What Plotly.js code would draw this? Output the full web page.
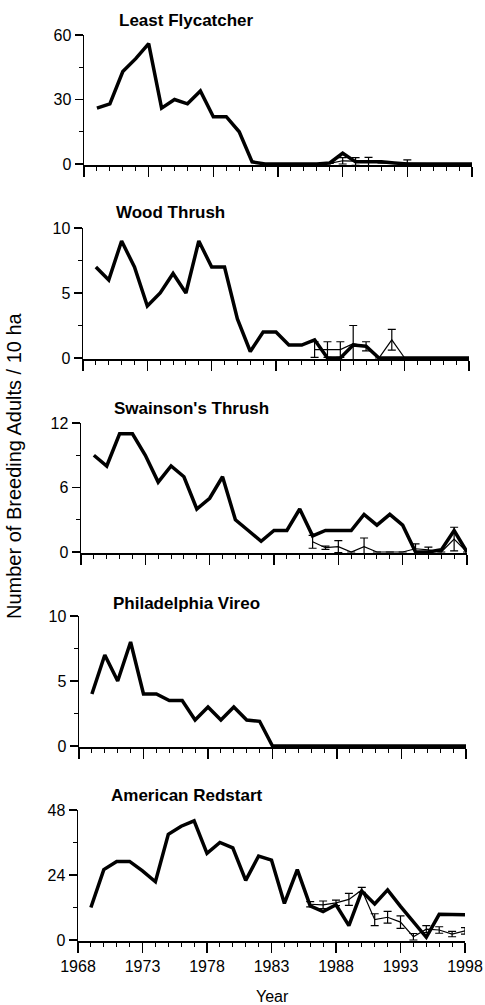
<!DOCTYPE html>
<html>
<head>
<meta charset="utf-8">
<script src="https://cdn.plot.ly/plotly-3.0.1.min.js"></script>
<style>html,body{margin:0;padding:0;background:#fff;}#chart{width:485px;height:1005px;}</style>
</head>
<body>
<div id="chart"></div>
<script>
// ---------- DATA ----------
var years = [1969,1970,1971,1972,1973,1974,1975,1976,1977,1978,1979,1980,1981,1982,1983,
             1984,1985,1986,1987,1988,1989,1990,1991,1992,1993,1994,1995,1996,1997,1998];
var recentYears = [1986,1987,1988,1989,1990,1991,1992,1993,1994,1995,1996,1997,1998];

var species = ["Least Flycatcher","Wood Thrush","Swainson's Thrush","Philadelphia Vireo","American Redstart"];
var yMax = [60, 10, 12, 10, 48];

var leastFlycatcher = [26,28,43,49,56,26,30,28,34,22,22,15,1,0,0,0,0,0,0.5,5,1,1,1,0.5,0,0,0,0,0,0];
var woodThrush      = [7,6,9,7,4,5,6.5,5,9,7,7,3,0.5,2,2,1,1,1.4,0,0,1,0.9,0,0,0,0,0,0,0,0];
var swainsonsThrush = [9,8,11,11,9,6.5,8,7,4,5,7,3,2,1,2,2,4,1.5,2,2,2,3.5,2.5,3.5,2.5,0,0,0.2,2,0];
var philVireo       = [4,7,5,8,4,4,3.5,3.5,2,3,2,3,2,1.9,0,0,0,0,0,0,0,0,0,0,0,0,0,0,0,0];
var amRedstart      = [12,26,29,29,25.5,21.5,39,42,44,32,36,34,22,31,29.5,13.5,26,12.6,10.5,13,5.3,18,13.3,18.5,12.4,6.7,1,9.5,9.5,9.3];

var lfRecent   = [0,0.3,1.5,1.2,1.2,0.5,0.4,0.2,0,0,0,0,0];
var lfErr      = [0,0,1.5,1.8,1.9,0,0,1.7,0,0,0,0,0];
var wtRecent   = [0.65,0.65,0.65,1.1,0.9,0,1.4,0,0,0,0,0,0];
var wtErr      = [0.6,0.6,0.6,1.4,0.35,0,0.8,0,0,0,0,0,0];
var stRecent   = [0.95,0.4,0.5,0,0.5,0,0,0,0.3,0.2,0,1.2,0];
var stErr      = [0.6,0.15,0.55,0,0.8,0,0,0,0.45,0.25,0,1.1,0];
var arRecent   = [13.2,13,13.7,15,18.5,7.5,8.4,6.6,1.2,4,3.7,2.2,3.4];
var arErr      = [1,1.4,1,2.2,0.9,2.2,2.2,2.3,1.2,1.3,1.2,1,1.2];

var longSeries = [leastFlycatcher, woodThrush, swainsonsThrush, philVireo, amRedstart];
var recentSeries = [lfRecent, wtRecent, stRecent, null, arRecent];
var recentErrors = [lfErr, wtErr, stErr, null, arErr];

// ---------- LAYOUT (pixel geometry) ----------
var W = 485, H = 1005;
var panelTop  = [35, 228, 423, 616, 810];
var panelZero = [164, 358, 552, 746, 940];
var panelLeft = [84, 83, 81, 79, 78];
var panelRight= [472, 469, 467, 466, 465];
var titleX    = [117, 114, 112, 111, 109];
var titleY    = [21, 213, 408, 603, 795];

var FONT = "Liberation Sans, Arial, Helvetica, sans-serif";
var traces = [];
var layout = {
  width: W, height: H,
  margin: {l:0, r:0, t:0, b:0},
  paper_bgcolor: "#fff", plot_bgcolor: "#fff",
  showlegend: false,
  font: {family: FONT, color: "#000", size: 16},
  annotations: []
};

for (var i = 0; i < 5; i++) {
  var sfx = i === 0 ? "" : String(i + 1);
  var xa = "x" + sfx, ya = "y" + sfx;
  var pad = yMax[i] / (panelZero[i] - panelTop[i]) * 1.0;
  traces.push({
    x: years, y: longSeries[i], xaxis: xa, yaxis: ya,
    type: "scatter", mode: "lines",
    line: {color: "#000", width: 3.5}, hoverinfo: "skip"
  });
  if (recentSeries[i]) {
    traces.push({
      x: recentYears, y: recentSeries[i], xaxis: xa, yaxis: ya,
      type: "scatter", mode: "lines",
      line: {color: "#000", width: 1.2},
      error_y: {type: "data", array: recentErrors[i], visible: true, color: "#000", thickness: 1.2, width: 4},
      hoverinfo: "skip"
    });
  }
  layout["xaxis" + sfx] = {
    domain: [panelLeft[i] / W, panelRight[i] / W],
    anchor: ya, range: [1968, 1998],
    tickmode: "linear", tick0: 1968, dtick: 5,
    ticks: "outside", ticklen: 10, tickwidth: 1.2, tickcolor: "#000",
    minor: {tickmode: "linear", tick0: 1968, dtick: 1, ticks: "outside", ticklen: 4, tickwidth: 1, tickcolor: "#000", showgrid: false},
    showticklabels: i === 4,
    tickfont: {family: FONT, size: 16, color: "#000"},
    showline: true, linewidth: 1.5, linecolor: "#000",
    showgrid: false, zeroline: false, fixedrange: true, automargin: false
  };
  layout["yaxis" + sfx] = {
    domain: [1 - (panelZero[i] + 1) / H, 1 - panelTop[i] / H],
    anchor: xa, range: [-pad, yMax[i]],
    tickmode: "linear", tick0: 0, dtick: yMax[i] / 2,
    ticks: "outside", ticklen: 8, tickwidth: 1.2, tickcolor: "#000",
    minor: {tickmode: "linear", tick0: 0, dtick: yMax[i] / 4, ticks: "outside", ticklen: 4, tickwidth: 1, tickcolor: "#000", showgrid: false},
    tickfont: {family: FONT, size: 16, color: "#000"},
    showline: true, linewidth: 1.5, linecolor: "#000",
    showgrid: false, zeroline: false, fixedrange: true, automargin: false
  };
  layout.annotations.push({
    text: "<b>" + species[i] + "</b>",
    xref: "paper", yref: "paper",
    x: titleX[i] / W, y: 1 - titleY[i] / H,
    xanchor: "left", yanchor: "middle", showarrow: false,
    font: {family: FONT, size: 17, color: "#000"}
  });
}

layout.annotations.push({
  text: "Number of Breeding Adults / 10 ha",
  xref: "paper", yref: "paper", x: 14 / W, y: 1 - 466 / H,
  xanchor: "center", yanchor: "middle", textangle: -90, showarrow: false,
  font: {family: FONT, size: 20, color: "#000"}
});
layout.annotations.push({
  text: "Year",
  xref: "paper", yref: "paper", x: 272 / W, y: 1 - 996 / H,
  xanchor: "center", yanchor: "middle", showarrow: false,
  font: {family: FONT, size: 16, color: "#000"}
});

Plotly.newPlot("chart", traces, layout, {displayModeBar: false, staticPlot: true});
</script>
</body>
</html>
